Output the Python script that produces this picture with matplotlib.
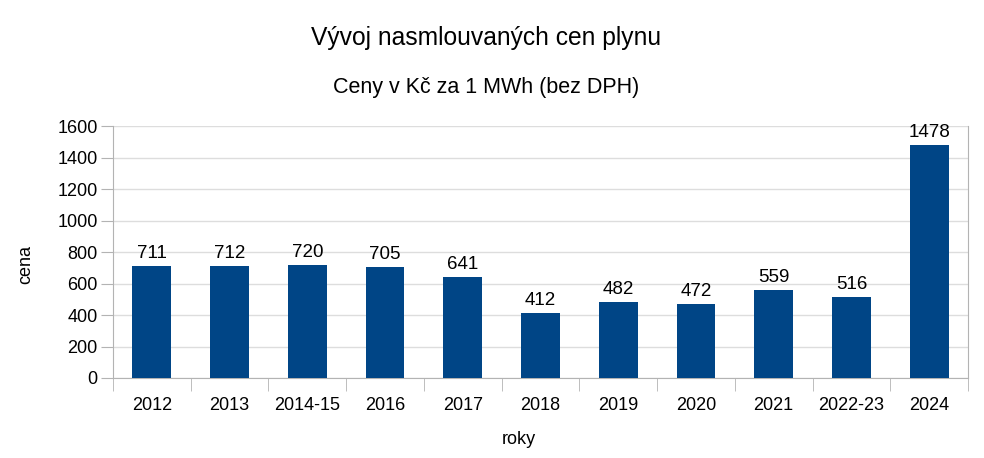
import matplotlib.pyplot as plt
import numpy as np

plt.rcParams['font.family'] = ['Liberation Sans', 'DejaVu Sans']

roky = ['2012', '2013', '2014-15', '2016', '2017', '2018', '2019', '2020', '2021', '2022-23', '2024']
ceny = [711, 712, 720, 705, 641, 412, 482, 472, 559, 516, 1478]

barva = '#004586'
seda = '#b3b3b3'

fig = plt.figure(figsize=(9.84, 4.58), dpi=100)
ax = fig.add_axes([113/984, 1 - 378/458, (968-113)/984, (378-126)/458])

x = np.arange(len(roky))
bars = ax.bar(x, ceny, width=0.5, color=barva, zorder=3)
for b, v in zip(bars, ceny):
    ax.text(b.get_x() + b.get_width()/2, v + 25, str(v), ha='center', va='bottom', fontsize=13.5)

ax.set_xlim(-0.5, len(roky) - 0.5)
ax.set_ylim(0, 1600)
ax.set_yticks(range(0, 1601, 200))
ax.set_xticks(x)
ax.set_xticklabels(roky, fontsize=13)
ax.tick_params(axis='x', length=0, pad=14)
ax.set_xticks(np.arange(-0.5, len(roky), 1), minor=True)
ax.tick_params(axis='x', which='minor', length=9, color=seda)
ax.tick_params(axis='y', labelsize=13, length=9, color=seda, pad=2)
ax.grid(axis='y', color='#dddddd', linewidth=1, zorder=0)

for s in ['left', 'bottom', 'right']:
    ax.spines[s].set_color(seda)
ax.spines['top'].set_visible(False)

fig.text(26/984, 1 - 264/458, 'cena', rotation=90, ha='center', va='center', fontsize=13)
fig.text(519/984, 1 - 439/458, 'roky', ha='center', va='center', fontsize=13)

fig.text(486/984, 1 - 38/458, 'Vývoj nasmlouvaných cen plynu', ha='center', va='center', fontsize=17.7)
fig.text(486/984, 1 - 88/458, 'Ceny v Kč za 1 MWh (bez DPH)', ha='center', va='center', fontsize=15.5)

fig.savefig('out.png', dpi=100)
